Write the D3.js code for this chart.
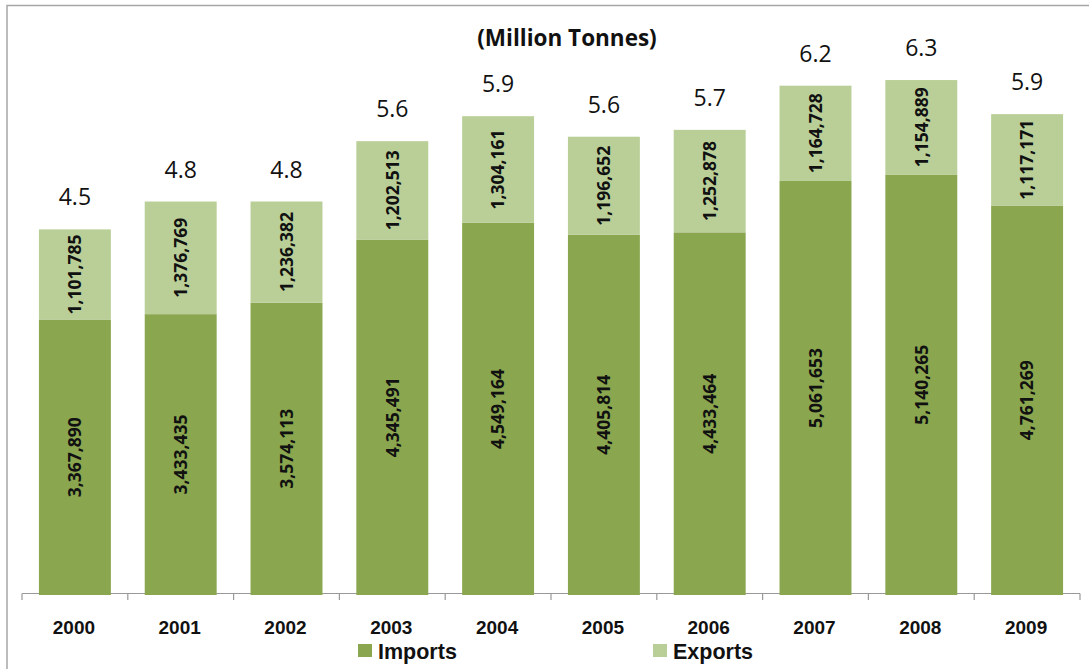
<!DOCTYPE html>
<html>
<head>
<meta charset="utf-8">
<script src="https://cdn.jsdelivr.net/npm/d3@7/dist/d3.min.js"></script>
<style>
  html, body { margin: 0; padding: 0; background: #fff; }
  svg { display: block; }
</style>
</head>
<body>
<svg id="chart" width="1089" height="669"></svg>
<script>
const years = ["2000","2001","2002","2003","2004","2005","2006","2007","2008","2009"];
const imports = [3367890, 3433435, 3574113, 4345491, 4549164, 4405814, 4433464, 5061653, 5140265, 4761269];
const exports = [1101785, 1376769, 1236382, 1202513, 1304161, 1196652, 1252878, 1164728, 1154889, 1117171];
const totalLabels = ["4.5","4.8","4.8","5.6","5.9","5.6","5.7","6.2","6.3","5.9"];
const seriesNames = ["Imports", "Exports"];
const title = "(Million Tonnes)";

const colors = { Imports: "#8aa64f", Exports: "#bacf98" };
const FONT = "'Open Sans', 'Liberation Sans', sans-serif";
const FONT2 = "'Liberation Sans', Arial, sans-serif";

const svg = d3.select("#chart");

// outer frame (only left/top visible)
svg.append("rect")
  .attr("x", 7).attr("y", 5.5)
  .attr("width", 1200).attr("height", 800)
  .attr("fill", "none").attr("stroke", "#a6a6a6").attr("stroke-width", 1.5);

const x = d3.scaleBand().domain(years).range([22, 1080]).paddingInner(0.32).paddingOuter(0.16);
const y = d3.scaleLinear().domain([0, 7000000]).range([595, 22.4]);

// axis line and ticks at category boundaries
const axisG = svg.append("g");
axisG.append("line")
  .attr("x1", 22).attr("x2", 1080).attr("y1", 593.5).attr("y2", 593.5)
  .attr("stroke", "#999").attr("stroke-width", 1.2);
const edges = d3.range(years.length + 1).map(i => 22 + i * (1058 / years.length));
axisG.selectAll("line.tick").data(edges).enter().append("line")
  .attr("class", "tick")
  .attr("x1", d => d).attr("x2", d => d)
  .attr("y1", 593.5).attr("y2", 600)
  .attr("stroke", "#999").attr("stroke-width", 1.2);

const stackData = years.map((yr, i) => ({ year: yr, Imports: imports[i], Exports: exports[i] }));
const stack = d3.stack().keys(seriesNames)(stackData);

const layers = svg.selectAll("g.layer").data(stack).enter().append("g")
  .attr("class", "layer")
  .attr("fill", d => colors[d.key]);

layers.selectAll("rect").data(d => d).enter().append("rect")
  .attr("x", d => x(d.data.year))
  .attr("width", x.bandwidth())
  .attr("y", d => y(d[1]))
  .attr("height", d => y(d[0]) - y(d[1]));

// segment value labels (rotated)
const fmt = d3.format(",");
stack.forEach(layer => {
  svg.append("g").selectAll("text").data(layer).enter().append("text")
    .attr("transform", d => {
      const cx = x(d.data.year) + x.bandwidth() / 2;
      const cy = (y(d[0]) + y(d[1])) / 2;
      return `translate(${cx},${cy}) rotate(-90)`;
    })
    .attr("text-anchor", "middle")
    .attr("dy", "0.36em")
    .attr("font-family", FONT)
    .attr("font-weight", 700)
    .attr("font-size", 17.5)
    .attr("fill", "#111")
    .text(d => fmt(d.data[layer.key]));
});

// total labels
svg.append("g").selectAll("text").data(stackData).enter().append("text")
  .attr("x", d => x(d.year) + x.bandwidth() / 2)
  .attr("y", d => y(d.Imports + d.Exports) - 24)
  .attr("text-anchor", "middle")
  .attr("font-family", FONT)
  .attr("font-size", 23)
  .attr("fill", "#111")
  .text((d, i) => totalLabels[i]);

// year labels
svg.append("g").selectAll("text").data(years).enter().append("text")
  .attr("x", d => x(d) + x.bandwidth() / 2 - 1)
  .attr("y", 634)
  .attr("text-anchor", "middle")
  .attr("font-family", FONT2)
  .attr("font-weight", 700)
  .attr("font-size", 19)
  .attr("fill", "#111")
  .text(d => d);

// title
svg.append("text")
  .attr("x", 567).attr("y", 46)
  .attr("text-anchor", "middle")
  .attr("font-family", FONT)
  .attr("font-weight", 700)
  .attr("font-size", 22.5)
  .attr("fill", "#111")
  .text(title);

// legend
const legendX = [358, 653];
const leg = svg.append("g").selectAll("g").data(seriesNames).enter().append("g")
  .attr("transform", (d, i) => `translate(${legendX[i]},0)`);
leg.append("rect")
  .attr("x", 0).attr("y", 644).attr("width", 14).attr("height", 13)
  .attr("fill", d => colors[d]);
leg.append("text")
  .attr("x", 20).attr("y", 659)
  .attr("font-family", FONT2)
  .attr("font-weight", 700)
  .attr("font-size", 21.5)
  .attr("fill", "#111")
  .text(d => d);
</script>
</body>
</html>
